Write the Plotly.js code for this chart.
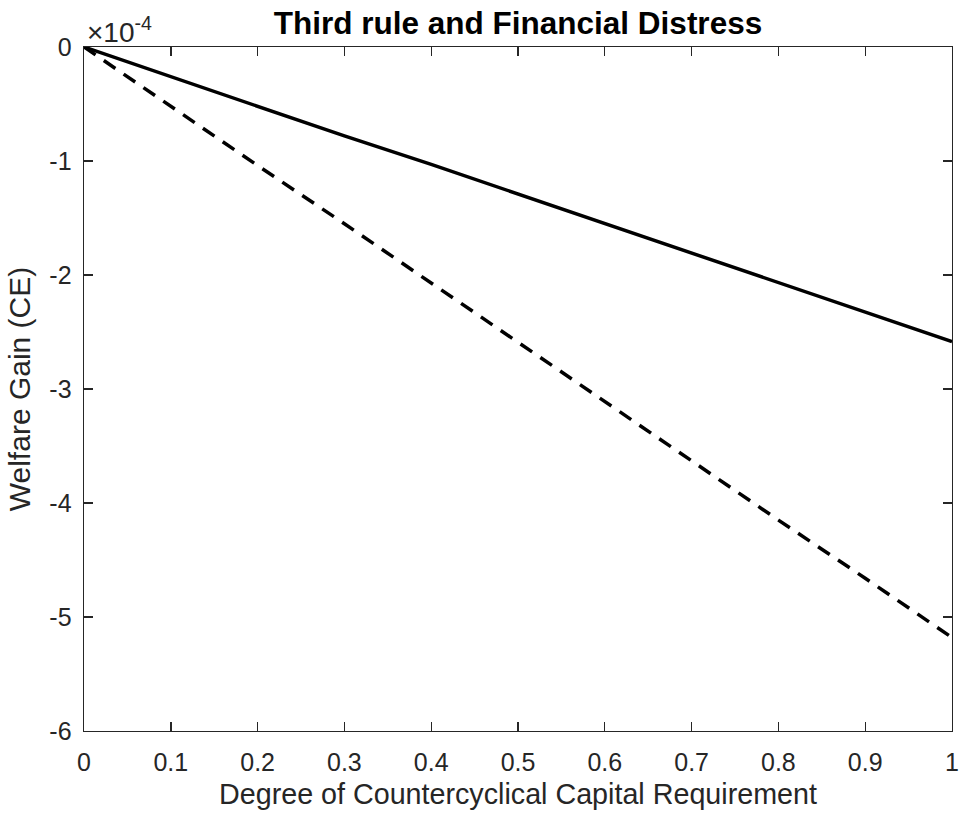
<!DOCTYPE html>
<html>
<head>
<meta charset="utf-8">
<script src="https://cdn.plot.ly/plotly-3.0.1.min.js"></script>
<style>html,body{margin:0;padding:0;background:#fff;}#chart{width:959px;height:822px;}</style>
</head>
<body>
<div id="chart"></div>
<script>
// Degree of countercyclical capital requirement
const degree = [0, 0.1, 0.2, 0.3, 0.4, 0.5, 0.6, 0.7, 0.8, 0.9, 1.0];
// Welfare gain (CE), in units of 1e-4
const welfareSolid = [0, -0.26, -0.52, -0.78, -1.03, -1.29, -1.55, -1.81, -2.07, -2.33, -2.585];
const welfareDashed = [0, -0.52, -1.04, -1.55, -2.07, -2.59, -3.11, -3.63, -4.15, -4.66, -5.18];
const xTicks = [0, 0.1, 0.2, 0.3, 0.4, 0.5, 0.6, 0.7, 0.8, 0.9, 1];
const xTickText = ['0', '0.1', '0.2', '0.3', '0.4', '0.5', '0.6', '0.7', '0.8', '0.9', '1'];
const yTicks = [-6, -5, -4, -3, -2, -1, 0];
const yTickText = ['-6', '-5', '-4', '-3', '-2', '-1', '0'];

const FONT = 'Liberation Sans, Arial, Helvetica, sans-serif';
const AX = '#262626';

const traces = [
  {x: degree, y: welfareSolid, mode: 'lines', type: 'scatter',
   line: {color: '#000', width: 3.5}, showlegend: false, hoverinfo: 'skip'},
  {x: degree, y: welfareDashed, mode: 'lines', type: 'scatter',
   line: {color: '#000', width: 3.5, dash: '14px,10px'}, showlegend: false, hoverinfo: 'skip'}
];

const axisCommon = {
  showline: true, linecolor: AX, linewidth: 1.4, mirror: 'ticks',
  ticks: 'inside', ticklen: 9, tickwidth: 1.4, tickcolor: AX,
  showgrid: false, zeroline: false, automargin: false,
  tickfont: {family: FONT, size: 25, color: AX}
};

const layout = {
  width: 959, height: 822,
  margin: {l: 84, r: 7, t: 47, b: 91},
  paper_bgcolor: '#fff', plot_bgcolor: '#fff',
  font: {family: FONT, color: AX},
  title: {text: '<b>Third rule and Financial Distress</b>', font: {family: FONT, size: 31.5, color: '#000'},
          x: 0.5, xref: 'paper', xanchor: 'center', y: 1 - 23 / 822, yref: 'container', yanchor: 'middle'},
  xaxis: Object.assign({}, axisCommon, {
    range: [0, 1], tickmode: 'array', tickvals: xTicks, ticktext: xTickText,
    ticklabelstandoff: 9,
    title: {text: 'Degree of Countercyclical Capital Requirement', font: {family: FONT, size: 28.7, color: AX}, standoff: 8}
  }),
  yaxis: Object.assign({}, axisCommon, {
    range: [-6, 0], tickmode: 'array', tickvals: yTicks, ticktext: yTickText,
    ticklabelstandoff: 6,
    title: {text: 'Welfare Gain (CE)', font: {family: FONT, size: 30, color: AX}, standoff: 10}
  }),
  annotations: [{
    xref: 'paper', yref: 'paper', x: 0, y: 1, xanchor: 'left', yanchor: 'bottom',
    xshift: 1, yshift: -3,
    text: '\u00d710<sup>-4</sup>', showarrow: false,
    font: {family: FONT, size: 28, color: AX}
  }]
};

Plotly.newPlot('chart', traces, layout, {staticPlot: true, displayModeBar: false});
</script>
</body>
</html>
